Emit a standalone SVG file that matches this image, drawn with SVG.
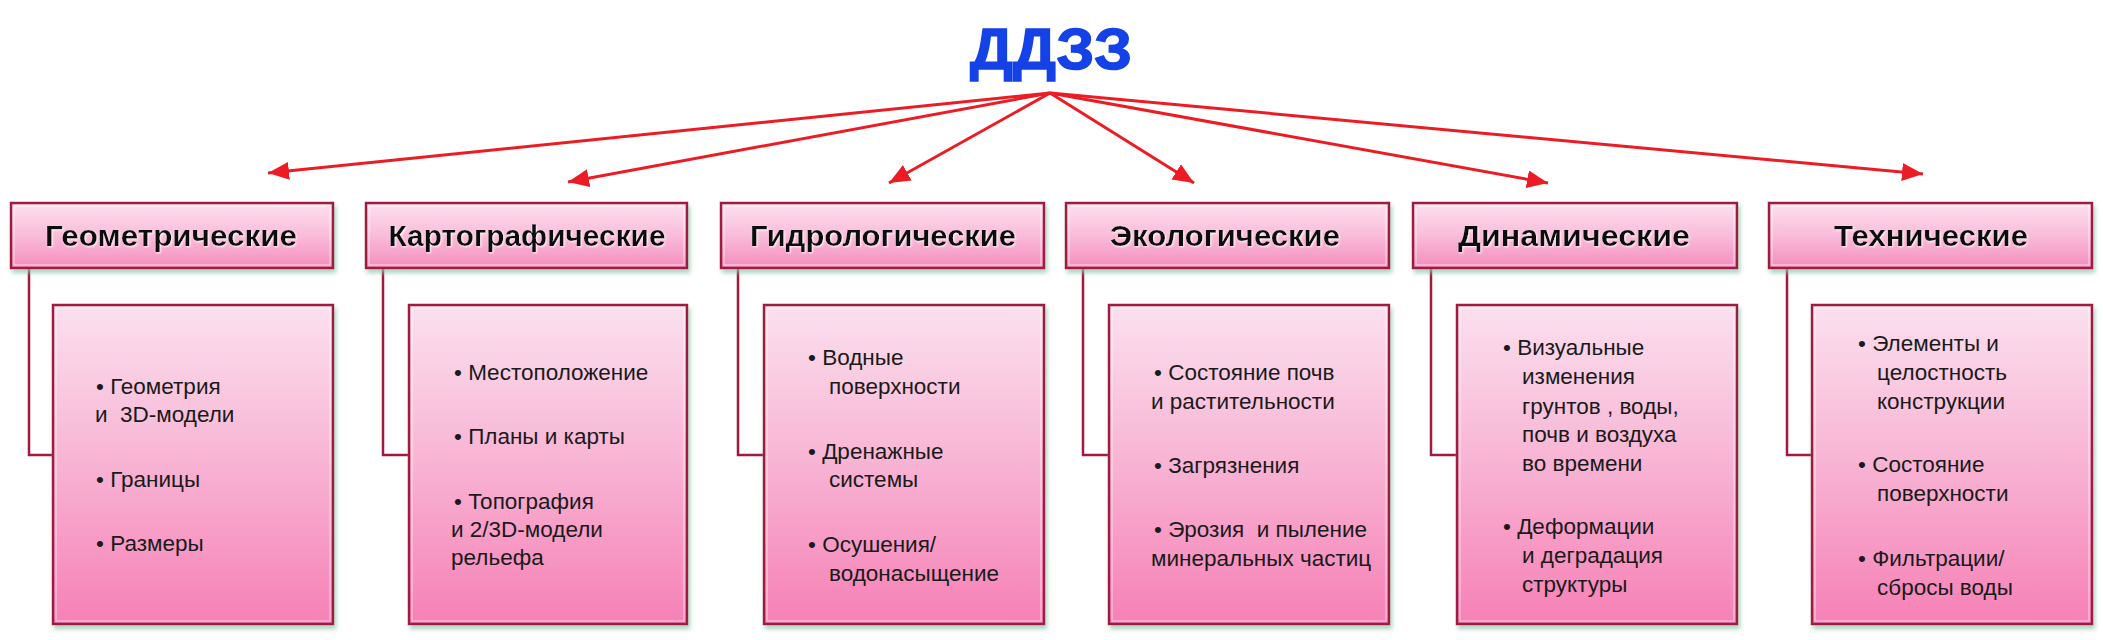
<svg xmlns="http://www.w3.org/2000/svg" width="2103" height="640" viewBox="0 0 2103 640">
<style>
.hdr{fill:url(#gh);stroke:#9e1a3e;stroke-width:2.5;filter:url(#sh)}
.det{fill:url(#gd);stroke:#9e1a3e;stroke-width:2.5;filter:url(#sh)}
.inner{fill:none;stroke:#ffffff;stroke-opacity:0.55;stroke-width:1.2}
.ht{font-family:"Liberation Sans",Arial,sans-serif;font-weight:bold;font-size:30px;fill:#111;text-anchor:middle;filter:url(#glow)}
.dt{font-family:"Liberation Sans",Arial,sans-serif;font-size:22.5px;fill:#1a1a1a;white-space:pre}
.con{fill:none;stroke:#9e1a3e;stroke-width:2.5}
.arr{fill:none;stroke:#ec1c24;stroke-width:3;marker-end:url(#ah)}
.title{font-family:"Liberation Sans",Arial,sans-serif;font-weight:bold;font-size:58px;fill:#1442e6;text-anchor:middle;stroke:#1442e6;stroke-width:1.5}
</style>
<defs>
<linearGradient id="gh" x1="0" y1="0" x2="0" y2="1">
<stop offset="0" stop-color="#fde1ef"/>
<stop offset="0.5" stop-color="#f9bcd9"/>
<stop offset="1" stop-color="#f48cbd"/>
</linearGradient>
<linearGradient id="gd" x1="0" y1="0" x2="0" y2="1">
<stop offset="0" stop-color="#fbe0ee"/>
<stop offset="0.45" stop-color="#f8b8d6"/>
<stop offset="1" stop-color="#f680b6"/>
</linearGradient>
<filter id="sh" x="-5%" y="-5%" width="115%" height="125%">
<feDropShadow dx="2" dy="4" stdDeviation="2" flood-color="#8cc4ae" flood-opacity="0.7"/>
</filter>
<filter id="glow" x="-5%" y="-20%" width="110%" height="140%">
<feDropShadow dx="1" dy="1" stdDeviation="1" flood-color="#ffffff" flood-opacity="0.9"/>
</filter>
<marker id="ah" markerUnits="userSpaceOnUse" markerWidth="24" markerHeight="20" refX="21" refY="9" orient="auto">
<path d="M0,0 L21,9 L0,18 Z" fill="#ec1c24"/>
</marker>
</defs>

<g id="title">
<text class="title" x="1051" y="69" textLength="162" lengthAdjust="spacingAndGlyphs">ДДЗЗ</text>
</g>

<g id="connectors">
<line class="arr" x1="1050" y1="93" x2="268" y2="173"/>
<line class="arr" x1="1050" y1="93" x2="568" y2="182"/>
<line class="arr" x1="1050" y1="93" x2="889" y2="183"/>
<line class="arr" x1="1050" y1="93" x2="1194" y2="183"/>
<line class="arr" x1="1050" y1="93" x2="1548" y2="183"/>
<line class="arr" x1="1050" y1="93" x2="1923" y2="174"/>
<polyline class="con" points="29,268 29,455 53,455"/>
<polyline class="con" points="383,268 383,455 409,455"/>
<polyline class="con" points="738,268 738,455 764,455"/>
<polyline class="con" points="1083,268 1083,455 1109,455"/>
<polyline class="con" points="1431,268 1431,455 1457,455"/>
<polyline class="con" points="1787,268 1787,455 1812,455"/>
</g>

<g id="h1">
<rect class="hdr" x="11" y="203" width="322" height="65"/>
<rect class="inner" x="14" y="206" width="316" height="59"/>
<text class="ht" x="171" y="246" textLength="252" lengthAdjust="spacingAndGlyphs">Геометрические</text>
</g>
<g id="h2">
<rect class="hdr" x="366" y="203" width="321" height="65"/>
<rect class="inner" x="369" y="206" width="315" height="59"/>
<text class="ht" x="527" y="246" textLength="277" lengthAdjust="spacingAndGlyphs">Картографические</text>
</g>
<g id="h3">
<rect class="hdr" x="721" y="203" width="323" height="65"/>
<rect class="inner" x="724" y="206" width="317" height="59"/>
<text class="ht" x="883" y="246" textLength="266" lengthAdjust="spacingAndGlyphs">Гидрологические</text>
</g>
<g id="h4">
<rect class="hdr" x="1066" y="203" width="323" height="65"/>
<rect class="inner" x="1069" y="206" width="317" height="59"/>
<text class="ht" x="1225" y="246" textLength="230" lengthAdjust="spacingAndGlyphs">Экологические</text>
</g>
<g id="h5">
<rect class="hdr" x="1413" y="203" width="324" height="65"/>
<rect class="inner" x="1416" y="206" width="318" height="59"/>
<text class="ht" x="1574" y="246" textLength="232" lengthAdjust="spacingAndGlyphs">Динамические</text>
</g>
<g id="h6">
<rect class="hdr" x="1769" y="203" width="323" height="65"/>
<rect class="inner" x="1772" y="206" width="317" height="59"/>
<text class="ht" x="1931" y="246" textLength="194" lengthAdjust="spacingAndGlyphs">Технические</text>
</g>

<g id="d1">
<rect class="det" x="53" y="305" width="280" height="319"/>
<rect class="inner" x="56" y="308" width="274" height="313"/>
<text class="dt" x="96" y="394">• Геометрия</text>
<text class="dt" x="95" y="422" xml:space="preserve">и  3D-модели</text>
<text class="dt" x="96" y="487">• Границы</text>
<text class="dt" x="96" y="551">• Размеры</text>
</g>
<g id="d2">
<rect class="det" x="409" y="305" width="278" height="319"/>
<rect class="inner" x="412" y="308" width="272" height="313"/>
<text class="dt" x="454" y="380">• Местоположение</text>
<text class="dt" x="454" y="444">• Планы и карты</text>
<text class="dt" x="454" y="509">• Топография</text>
<text class="dt" x="451" y="537">и 2/3D-модели</text>
<text class="dt" x="451" y="565">рельефа</text>
</g>
<g id="d3">
<rect class="det" x="764" y="305" width="280" height="319"/>
<rect class="inner" x="767" y="308" width="274" height="313"/>
<text class="dt" x="808" y="365">• Водные</text>
<text class="dt" x="829" y="394">поверхности</text>
<text class="dt" x="808" y="459">• Дренажные</text>
<text class="dt" x="829" y="487">системы</text>
<text class="dt" x="808" y="552">• Осушения/</text>
<text class="dt" x="829" y="581">водонасыщение</text>
</g>
<g id="d4">
<rect class="det" x="1109" y="305" width="280" height="319"/>
<rect class="inner" x="1112" y="308" width="274" height="313"/>
<text class="dt" x="1154" y="380">• Состояние почв</text>
<text class="dt" x="1151" y="409">и растительности</text>
<text class="dt" x="1154" y="473">• Загрязнения</text>
<text class="dt" x="1154" y="537" xml:space="preserve">• Эрозия  и пыление</text>
<text class="dt" x="1151" y="566">минеральных частиц</text>
</g>
<g id="d5">
<rect class="det" x="1457" y="305" width="280" height="319"/>
<rect class="inner" x="1460" y="308" width="274" height="313"/>
<text class="dt" x="1503" y="355">• Визуальные</text>
<text class="dt" x="1522" y="384">изменения</text>
<text class="dt" x="1522" y="414">грунтов , воды,</text>
<text class="dt" x="1522" y="442">почв и воздуха</text>
<text class="dt" x="1522" y="471">во времени</text>
<text class="dt" x="1503" y="534">• Деформации</text>
<text class="dt" x="1522" y="563">и деградация</text>
<text class="dt" x="1522" y="592">структуры</text>
</g>
<g id="d6">
<rect class="det" x="1812" y="305" width="280" height="319"/>
<rect class="inner" x="1815" y="308" width="274" height="313"/>
<text class="dt" x="1858" y="351">• Элементы и</text>
<text class="dt" x="1877" y="380">целостность</text>
<text class="dt" x="1877" y="409">конструкции</text>
<text class="dt" x="1858" y="472">• Состояние</text>
<text class="dt" x="1877" y="501">поверхности</text>
<text class="dt" x="1858" y="566">• Фильтрации/</text>
<text class="dt" x="1877" y="595">сбросы воды</text>
</g>
</svg>
